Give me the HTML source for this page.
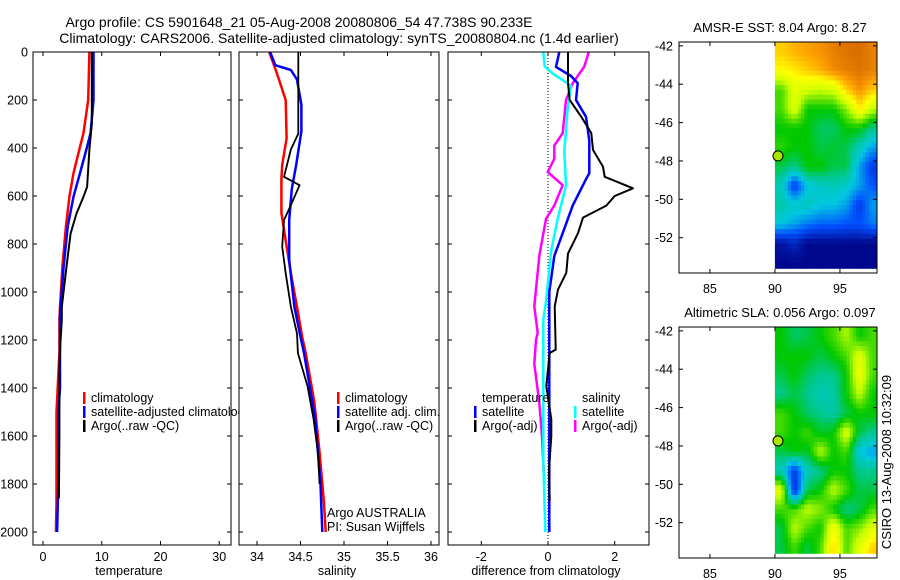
<!DOCTYPE html>
<html><head><meta charset="utf-8"><style>
html,body{margin:0;padding:0;background:#fff;}
svg{display:block;font-family:"Liberation Sans",sans-serif;}
text{font-size:12.5px;fill:#000;}
</style></head><body>
<svg id="fig" width="900" height="580" viewBox="0 0 900 580">
<text x="299" y="27" text-anchor="middle" style="font-size:14px">Argo profile: CS 5901648_21 05-Aug-2008 20080806_54 47.738S 90.233E</text>
<text x="339" y="43" text-anchor="middle" style="font-size:14px">Climatology: CARS2006. Satellite-adjusted climatology: synTS_20080804.nc (1.4d earlier)</text>
<text x="780" y="32" text-anchor="middle" style="font-size:13px">AMSR-E SST: 8.04 Argo: 8.27</text>
<text x="780" y="317" text-anchor="middle" style="font-size:13px">Altimetric SLA: 0.056 Argo: 0.097</text>
<text transform="translate(891,462) rotate(-90)" text-anchor="middle" style="font-size:13px">CSIRO 13-Aug-2008 10:32:09</text>
<g id="g"></g>
</svg>
<script>
// ---------- data ----------
const depthTicks = [0,200,400,600,800,1000,1200,1400,1600,1800,2000];
const tempTicks = [0,10,20,30];
const salTicks = [34,34.5,35,35.5,36];
const salTickLabels = ["34","34.5","35","35.5","36"];
const diffTicks = [-2,0,2];

const tClimDepth = [0,200,337,395,505,603,728,895,1062,1117,1254,1500,1870,2000];
const tClimVal   = [7.9,7.7,6.9,6.3,5.2,4.5,3.9,3.3,2.9,2.8,2.8,2.3,2.3,2.2];
const tSatDepth  = [0,200,337,395,505,603,728,895,1062,1100,1400,1500,1800,2000];
const tSatVal    = [8.6,8.6,8.1,7.5,6.3,5.2,4.2,3.5,3.0,2.9,2.9,2.6,2.6,2.4];
const tArgoDepth = [0,300,406,562,603,673,756,895,1062,1117,1200,1300,1600,1860];
const tArgoVal   = [8.3,8.3,7.9,7.5,6.9,5.7,4.7,4.0,3.2,3.2,3.0,2.8,2.8,2.7];

const sClimDepth = [0,90,200,360,470,530,670,785,922,1062,1187,1254,1460,1670,1880,2000];
const sClimVal   = [34.14,34.23,34.33,34.34,34.29,34.28,34.28,34.33,34.39,34.46,34.52,34.56,34.66,34.72,34.77,34.79];
const sSatDepth  = [0,55,75,115,220,330,470,570,700,867,1062,1187,1254,1530,1800,2000];
const sSatVal    = [34.15,34.21,34.39,34.46,34.51,34.51,34.45,34.40,34.37,34.37,34.43,34.50,34.54,34.67,34.73,34.75];
const sArgoDepth = [0,340,406,520,555,645,700,811,922,1062,1173,1254,1392,1530,1670,1800];
const sArgoVal   = [34.475,34.475,34.39,34.31,34.49,34.38,34.31,34.29,34.33,34.39,34.46,34.47,34.58,34.65,34.70,34.72];

const dTSatDepth = [0,62,100,130,200,270,370,505,530,640,755,850,1000,2000];
const dTSatVal   = [0.34,0.24,0.69,0.89,0.84,1.14,1.24,1.24,1.14,0.74,0.44,0.19,0.04,0.04];
const dTArgoDepth = [0,130,200,270,338,408,478,520,568,600,640,690,755,840,920,990,1060,1240,1254,1392,1530,1600,1740,1870];
const dTArgoVal   = [0.6,0.6,0.65,1.0,1.3,1.35,1.65,1.7,2.55,2.0,1.75,1.05,0.9,0.6,0.55,0.3,0.2,0.23,0.05,-0.05,0.1,0.1,0.03,0.05];
const dSSatDepth = [0,60,90,140,236,417,555,695,833,1040,1117,1700,2000];
const dSSatVal   = [-0.14,-0.1,0.14,0.69,0.59,0.49,0.54,0.29,0.09,-0.06,-0.14,-0.14,-0.08];
const dSArgoDepth = [0,61,130,200,338,390,445,500,555,640,695,850,1060,1170,1200,1300,1460,1600,1800];
const dSArgoVal   = [1.22,1.09,0.74,0.54,0.44,0.19,0.19,-0.01,0.44,0.19,-0.06,-0.26,-0.41,-0.31,-0.36,-0.41,-0.26,-0.18,-0.11];

const mapLonTicks = [85,90,95];
const mapLatTicks = [-42,-44,-46,-48,-50,-52];
const gridLon0 = 90, gridLat0 = -41.8;
const sstGrid = [
 [0.85,0.88,0.9,0.92,0.95,0.97,0.98,0.95],
 [0.8,0.82,0.85,0.88,0.93,0.95,0.97,0.95],
 [0.6,0.75,0.72,0.7,0.72,0.85,0.92,0.85],
 [0.6,0.75,0.55,0.55,0.55,0.65,0.82,0.7],
 [0.55,0.55,0.55,0.48,0.48,0.55,0.55,0.45],
 [0.58,0.55,0.55,0.5,0.52,0.5,0.4,0.3],
 [0.5,0.45,0.55,0.55,0.5,0.5,0.3,0.15],
 [0.4,0.15,0.35,0.38,0.4,0.38,0.3,0.2],
 [0.42,0.38,0.4,0.35,0.35,0.3,0.15,0.3],
 [0.35,0.3,0.25,0.22,0.22,0.2,0.2,0.25],
 [0.05,0.1,0.02,0.02,0.02,0.02,0.02,0.02],
 [0.02,0.02,0.02,0.02,0.02,0.02,0.02,0.02]];
const slaGrid = [
 [0.55,0.48,0.5,0.55,0.6,0.68,0.55,0.6],
 [0.55,0.55,0.55,0.5,0.55,0.6,0.75,0.6],
 [0.5,0.55,0.48,0.45,0.45,0.55,0.78,0.6],
 [0.45,0.5,0.45,0.4,0.42,0.55,0.7,0.55],
 [0.6,0.55,0.48,0.45,0.42,0.5,0.55,0.55],
 [0.6,0.55,0.6,0.52,0.55,0.75,0.5,0.45],
 [0.5,0.55,0.52,0.7,0.55,0.6,0.35,0.3],
 [0.4,0.15,0.4,0.45,0.55,0.55,0.45,0.45],
 [0.75,0.1,0.5,0.55,0.7,0.6,0.5,0.5],
 [0.6,0.6,0.7,0.65,0.55,0.45,0.5,0.6],
 [0.5,0.7,0.6,0.55,0.8,0.6,0.65,0.75],
 [0.5,0.6,0.5,0.6,0.85,0.6,0.75,0.85]];
const floatLon = 90.233, floatLat = -47.738;

// ---------- drawing ----------
const NS = "http://www.w3.org/2000/svg";
const G = document.getElementById('g');
function mk(tag, attrs, parent){const e=document.createElementNS(NS,tag);for(const k in attrs)e.setAttribute(k,attrs[k]);(parent||G).appendChild(e);return e;}
const Y0=52, Y1=545, DMAX=2054;
const yD = d => Y0 + d*(Y1-Y0)/DMAX;

function panel(name,x0,x1,xmin,xmax){
  const sx = v => x0 + (v-xmin)*(x1-x0)/(xmax-xmin);
  const r = mk('rect',{x:x0,y:Y0,width:x1-x0,height:Y1-Y0,fill:'#fff',stroke:'none'});
  
  
  return sx;
}
function frame(name,x0,x1,sx,ticks,labels,xlabel,labelX){
  const b = mk('rect',{x:x0,y:Y0,width:x1-x0,height:Y1-Y0,fill:'none',stroke:'#000','stroke-width':1});
  
  
  ticks.forEach((t,i)=>{
    const x=sx(t);
    mk('line',{x1:x,x2:x,y1:Y1,y2:Y1-4,stroke:'#000'});
    mk('line',{x1:x,x2:x,y1:Y0,y2:Y0+4,stroke:'#000'});
    const tl = mk('text',{x:x,y:561,'text-anchor':'middle'}); tl.textContent=labels[i];
    
    
  });
  depthTicks.forEach(d=>{
    const y=yD(d);
    mk('line',{x1:x0,x2:x0+4,y1:y,y2:y,stroke:'#000'});
    mk('line',{x1:x1,x2:x1-4,y1:y,y2:y,stroke:'#000'});
  });
  const xl = mk('text',{x:labelX,y:575,'text-anchor':'middle'}); xl.textContent=xlabel;
  
  
}
function line(sx,depths,vals,color,w,name){
  let d='';
  depths.forEach((dep,i)=>{ d += (i?'L':'M')+sx(vals[i]).toFixed(1)+','+yD(dep).toFixed(1); });
  const p = mk('path',{d:d,fill:'none',stroke:color,'stroke-width':w,'stroke-linejoin':'round'});
  
  
}
function legend(items,x,y0,name){
  items.forEach((it,i)=>{
    const y=y0+i*14;
    if(it[1]) mk('rect',{x:x,y:y-10,width:2.5,height:12,fill:it[1]});
    const t = mk('text',{x:x+8,y:y}); t.textContent=it[0];
    
    
  });
}

const sxT = panel('temperature',33,231,-1.7,32);
line(sxT,tClimDepth,tClimVal,'#f00',2.5,'temp-climatology-line');
line(sxT,tSatDepth,tSatVal,'#00f',2.5,'temp-satellite-line');
line(sxT,tArgoDepth,tArgoVal,'#000',2,'temp-argo-line');
legend([['climatology','#f00'],['satellite-adjusted climatology','#00f'],['Argo(..raw -QC)','#000']],83,402,'temp-legend');
const sxS = panel('salinity',239,439,33.793,36.092);
line(sxS,sClimDepth,sClimVal,'#f00',2.5,'sal-climatology-line');
line(sxS,sSatDepth,sSatVal,'#00f',2.5,'sal-satellite-line');
line(sxS,sArgoDepth,sArgoVal,'#000',1.8,'sal-argo-line');
legend([['climatology','#f00'],['satellite adj. clim.','#00f'],['Argo(..raw -QC)','#000']],337,402,'sal-legend');
[['Argo AUSTRALIA',517],['PI: Susan Wijffels',531]].forEach(a=>{const t=mk('text',{x:327,y:a[1]});t.textContent=a[0];
  
  });
const sxD = panel('difference',448,649,-3,3.03);
mk('line',{x1:sxD(0),x2:sxD(0),y1:Y0,y2:Y1,stroke:'#000','stroke-dasharray':'1,2'});
line(sxD,dSArgoDepth,dSArgoVal,'#f0f',2.5,'diff-sal-argo-line');
line(sxD,dSSatDepth,dSSatVal,'#0ff',2.5,'diff-sal-satellite-line');
line(sxD,dTSatDepth,dTSatVal,'#00f',2.5,'diff-temp-satellite-line');
line(sxD,dTArgoDepth,dTArgoVal,'#000',2,'diff-temp-argo-line');
legend([['temperature',null],['satellite','#00f'],['Argo(-adj)','#000']],474,402,'diff-temp-legend');
legend([['salinity',null],['satellite','#0ff'],['Argo(-adj)','#f0f']],574,402,'diff-sal-legend');

frame('temperature',33,231,sxT,tempTicks,tempTicks.map(String),'temperature',129);
frame('salinity',239,439,sxS,salTicks,salTickLabels,'salinity',337);
frame('difference',448,649,sxD,diffTicks,diffTicks.map(String),'difference from climatology',546);
depthTicks.forEach(d=>{const t=mk('text',{x:28,y:yD(d)+4.5,'text-anchor':'end'});t.textContent=String(d);
  
  });

const stops=[[0,[0,0,128]],[0.2,[0,80,255]],[0.35,[0,200,224]],[0.45,[0,200,144]],[0.55,[0,200,0]],[0.7,[200,255,0]],[0.8,[255,255,0]],[0.9,[255,160,0]],[1,[208,96,0]]];
function cmap(v){v=Math.max(0,Math.min(1,v));for(let i=1;i<stops.length;i++){if(v<=stops[i][0]){const a=stops[i-1],b=stops[i],f=(v-a[0])/(b[0]-a[0]);return 'rgb('+a[1].map((c,k)=>Math.round(c+(b[1][k]-c)*f)).join(',')+')';}}return 'rgb(208,96,0)';}
function sample(grid,r,c){
  const R=grid.length, C=grid[0].length;
  r=Math.max(0,Math.min(R-1,r)); c=Math.max(0,Math.min(C-1,c));
  const r0=Math.floor(r), c0=Math.floor(c), r1=Math.min(R-1,r0+1), c1=Math.min(C-1,c0+1);
  const fr=r-r0, fc=c-c0;
  return (grid[r0][c0]*(1-fc)+grid[r0][c1]*fc)*(1-fr)+(grid[r1][c0]*(1-fc)+grid[r1][c1]*fc)*fr;
}

function mapPanel(name,top,grid){
  const X0=679,X1=877,H=231, lonMin=82.62, lonMax=97.85, latTop=-41.8, latBot=-53.84;
  const sx=l=>X0+(l-lonMin)*(X1-X0)/(lonMax-lonMin);
  const sy=la=>top+(latTop-la)*H/(latTop-latBot);
  const gridG = mk('g',{});
  
  
  const SUB=4, step=1/SUB, latEnd=-53.6;
  for(let la=gridLat0; la>latEnd+1e-6; la-=step){
    for(let lo=gridLon0; lo<lonMax-1e-6; lo+=step){
      const la1=Math.max(la-step,latEnd), lo1=Math.min(lo+step,lonMax);
      const r=(gridLat0-(la-step/2))-0.5, c=((lo+step/2)-gridLon0)-0.5;
      const v=sample(grid,r,c);
      const x=sx(lo),y=sy(la);
      const cell = mk('rect',{x:x.toFixed(1),y:y.toFixed(1),width:(sx(lo1)-x+0.4).toFixed(1),height:(sy(la1)-y+0.4).toFixed(1),fill:cmap(v)},gridG);
      
      
    }
  }
  const dot = mk('circle',{cx:sx(floatLon),cy:sy(floatLat),r:5,fill:'#a8e800',stroke:'#000','stroke-width':1});
  
  
  const b = mk('rect',{x:X0,y:top,width:X1-X0,height:H,fill:'none',stroke:'#000'});
  
  
  mapLonTicks.forEach(l=>{const x=sx(l);
    mk('line',{x1:x,x2:x,y1:top+H,y2:top+H-4,stroke:'#000'});
    mk('line',{x1:x,x2:x,y1:top,y2:top+4,stroke:'#000'});
    const t=mk('text',{x:x,y:top+H+20,'text-anchor':'middle'});t.textContent=String(l);
    
    });
  mapLatTicks.forEach(la=>{const y=sy(la);
    mk('line',{x1:X0,x2:X0+4,y1:y,y2:y,stroke:'#000'});
    mk('line',{x1:X1,x2:X1-4,y1:y,y2:y,stroke:'#000'});
    const t=mk('text',{x:X0-6,y:y+4.5,'text-anchor':'end'});t.textContent=String(la);
    
    });
}
mapPanel('sst-map',42,sstGrid);
mapPanel('sla-map',327,slaGrid);
</script>
</body></html>
